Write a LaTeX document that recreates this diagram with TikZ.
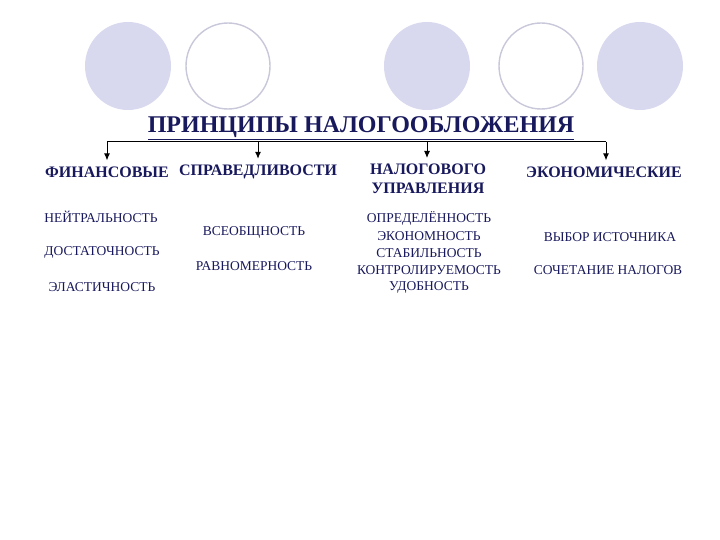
\documentclass[tikz,border=0pt]{standalone}
\usepackage{fontspec}
\setmainfont{Liberation Serif}
\usetikzlibrary{arrows.meta}

\definecolor{navy}{RGB}{24,24,92}
\definecolor{lilac}{RGB}{216,216,238}
\definecolor{lilacline}{RGB}{200,200,218}

\tikzset{
    head/.style={font=\bfseries\fontsize{16}{19}\selectfont,text=navy,align=center,inner sep=1pt},
    item/.style={font=\fontsize{13.5}{15}\selectfont,text=navy,inner sep=1pt},
    blob/.style={fill=lilac,draw=none},
    ring/.style={draw=lilacline,line width=1.4pt,fill=white},
    down/.style={-{Latex[length=7pt,width=6pt]},line width=1pt,shorten >=5pt}
}

\begin{document}
\begin{tikzpicture}[x=1pt,y=-1pt]
\useasboundingbox (0,0) rectangle (720,540);
% circles on top
\path[blob] (128,66) ellipse (43 and 44);
\path[ring] (228,66) ellipse (42 and 43);
\path[blob] (427,66) ellipse (43 and 44);
\path[ring] (541,66) ellipse (42 and 43);
\path[blob] (640,66) ellipse (43 and 44);

\node [font=\bfseries\fontsize{24}{27}\selectfont,text=navy] (title) at (361,128) {\underline{ПРИНЦИПЫ НАЛОГООБЛОЖЕНИЯ}};

\coordinate (b1) at (107,142);
\coordinate (b2) at (258,142);
\coordinate (b3) at (427,142);
\coordinate (b4) at (606,142);

\node [head] (fin) at (107,172) {ФИНАНСОВЫЕ};
\node [head] (spr) at (258,172) {СПРАВЕДЛИВОСТИ};
\node [head,anchor=north] (upr) at (428,163) {НАЛОГОВОГО\\УПРАВЛЕНИЯ};
\node [head] (eko) at (604,172) {ЭКОНОМИЧЕСКИЕ};

\draw[line width=1pt] (b1) -- (b4);
\path[down] (b1) edge (fin.north);
\path[down] (b2) edge (spr.north);
\path[down] (b3) edge (b3 |- upr.north);
\path[down] (b4) edge (b4 |- eko.north);

\node [item] (ney) at (101,217) {НЕЙТРАЛЬНОСТЬ};
\node [item] (dos) at (102,252) {ДОСТАТОЧНОСТЬ};
\node [item] (ela) at (102,287) {ЭЛАСТИЧНОСТЬ};

\node [item] (vse) at (254,232) {ВСЕОБЩНОСТЬ};
\node [item] (rav) at (254,266) {РАВНОМЕРНОСТЬ};

\node [item] (opr) at (429,218) {ОПРЕДЕЛЁННОСТЬ};
\node [item] (ekn) at (429,236) {ЭКОНОМНОСТЬ};
\node [item] (sta) at (429,253) {СТАБИЛЬНОСТЬ};
\node [item] (kon) at (429,270) {КОНТРОЛИРУЕМОСТЬ};
\node [item] (udo) at (429,287) {УДОБНОСТЬ};

\node [item] (vyb) at (610,237) {ВЫБОР ИСТОЧНИКА};
\node [item] (soc) at (608,270) {СОЧЕТАНИЕ НАЛОГОВ};
\end{tikzpicture}
\end{document}
